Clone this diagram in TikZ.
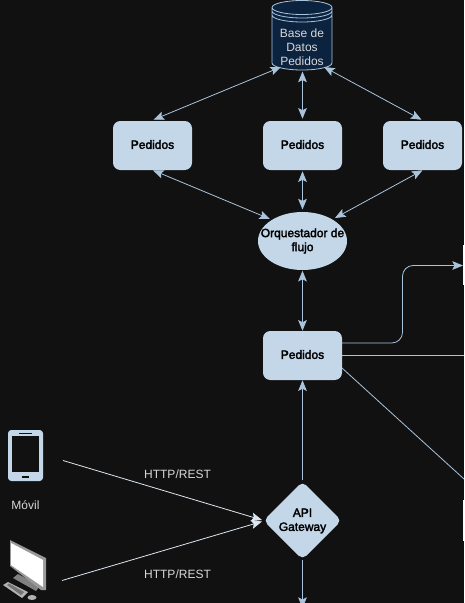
\documentclass[tikz,border=0pt]{standalone}
\usepackage{fontspec}
\setmainfont{Liberation Sans}
\newfontfamily\fakeb[FakeBold=2.5]{Liberation Sans}
\usetikzlibrary{arrows.meta,shapes.geometric,calc}
\definecolor{bg}{HTML}{111111}
\definecolor{boxfill}{HTML}{C3D7E9}
\definecolor{edge}{HTML}{A9C4DC}
\definecolor{dbfill}{HTML}{0C2340}
\definecolor{txtlight}{HTML}{D8D8D8}
\tikzset{
  darktxt/.style={font=\fontsize{9}{10.5}\selectfont\fakeb\color{black},align=center,inner sep=0pt},
  pedbox/.style={rectangle,rounded corners=5.5pt,fill=boxfill,minimum width=59.25pt,minimum height=36.75pt,darktxt,text depth=1.5pt},
  conn/.style={draw=edge,line width=0.6pt,-{Stealth[length=8pt,width=6.5pt,inset=1.6pt]}},
  both/.style={conn,{Stealth[length=8pt,width=6.5pt,inset=1.6pt]}-{Stealth[length=8pt,width=6.5pt,inset=1.6pt]}},
  lbl/.style={font=\fontsize{9}{10.5}\selectfont,text=txtlight,inner sep=0pt,align=center},
}
\begin{document}
\begin{tikzpicture}[x=0.75pt,y=-0.75pt]
\useasboundingbox (0,0) rectangle (464,603);
\clip (0,0) rectangle (464,603);
\fill[bg] (0,0) rectangle (464,603);
% database
\fill[dbfill] (272,7.5) arc[x radius=30,y radius=7,start angle=180,end angle=360] -- (332,63) arc[x radius=30,y radius=7,start angle=0,end angle=180] -- cycle;
\draw[edge,line width=0.6pt] (272,7.5) arc[x radius=30,y radius=7,start angle=180,end angle=-180]
  (272,7.5) -- (272,63) arc[x radius=30,y radius=7,start angle=180,end angle=0] -- (332,7.5)
  (272,11) arc[x radius=30,y radius=7,start angle=180,end angle=0]
  (272,15) arc[x radius=30,y radius=7,start angle=180,end angle=0];
\node[lbl] (db) at (302,47) {Base de\\Datos\\Pedidos};
\coordinate (dbL) at (281,67);
\coordinate (dbC) at (302.5,71.5);
\coordinate (dbR) at (324,67);
% boxes
\node[pedbox] (p1) at (152.5,145.5) {Pedidos};
\node[pedbox] (p2) at (302.5,145.5) {Pedidos};
\node[pedbox] (p3) at (422.5,145.5) {Pedidos};
\node[pedbox] (p4) at (302.5,355.5) {Pedidos};
\node[ellipse,fill=boxfill,minimum width=66.75pt,minimum height=43.5pt,inner sep=0pt] (orq) at (302.5,241) {};
\node[darktxt] (orqt) at (302.5,241) {Orquestador de\\flujo};
% diamond
\coordinate (gc) at (302.5,520.5);
\fill[boxfill,rounded corners=4pt] (302.5,481.5) -- (341.5,520.5) -- (302.5,559.5) -- (263.5,520.5) -- cycle;
\node[darktxt] (gw) at (302.5,521) {API\\Gateway};
% clipped nodes at right edge
\fill[white!90!edge] (463,245) rectangle (470,285);
\fill[white!90!edge] (463,500) rectangle (470,541);
\coordinate (r1) at (463,265.5);
\coordinate (r2) at (464,355.5);
\coordinate (r3) at (464,479);
% connectors
\draw[both] (p1.north) ++(1,-1) -- (dbL);
\draw[both] (p2.north) ++(0,-2) -- (dbC);
\draw[both] (p3.north) ++(-1,-1) -- (dbR);
\draw[both] (p1.south) ++(0.5,0) -- (270,219);
\draw[both] (p2.south) ++(0,1) -- (302.5,209.5);
\draw[both] (p3.south) ++(0,0) -- (335,218);
\draw[both] (orq.south) ++(0,0.5) -- (p4.north);
\draw[conn,rounded corners=8pt] (342,343) -- (402.5,343) -- (402.5,265.5) -- (r1);
\draw[draw=edge,line width=0.6pt] (342,355.5) -- (r2);
\draw[draw=edge,line width=0.6pt] (342,368) -- (r3);
\draw[conn] (302.5,480) -- (p4.south);
\coordinate (mob) at (63,460.5);
\coordinate (pc) at (62,580.5);
\draw[conn,draw=white!60!edge] (mob) -- (262,520);
\draw[conn,draw=white!60!edge] (pc) -- (262,521.5);
\coordinate (down) at (302.5,608);
\draw[conn] (302.5,560) -- (down);
% labels
\node[lbl] (l1) at (177.5,474.5) {HTTP/REST};
\node[lbl] (l2) at (177.5,574.5) {HTTP/REST};
\node[lbl] (l3) at (25.5,505) {Móvil};
% phone
\fill[boxfill,rounded corners=2.5pt] (8,430) rectangle (43,481);
\fill[bg] (12,436) rectangle (39,472);
\fill[bg] (19,432.5) rectangle (32,434);
\fill[bg] (22,475.5) rectangle (29,477.5);
% computer
\fill[black!50] (13,578) -- (18,574) -- (40,586) -- (36,591) -- cycle;
\fill[black!40] (10,540) -- (46,558) -- (46,590) -- (41,590) -- (10,566) -- cycle;
\fill[white] (11,543) -- (43,560) -- (43,587) -- (11,565) -- cycle;
\fill[black!30] (3,585) -- (8,582) -- (28,592) -- (22,598) -- cycle;
\fill[black!55] (7,585) -- (9,583.5) -- (24,592) -- (21,595) -- cycle;
\fill[black!30] (32,597.5) ellipse[x radius=4.5,y radius=2.5];
\end{tikzpicture}
\end{document}
